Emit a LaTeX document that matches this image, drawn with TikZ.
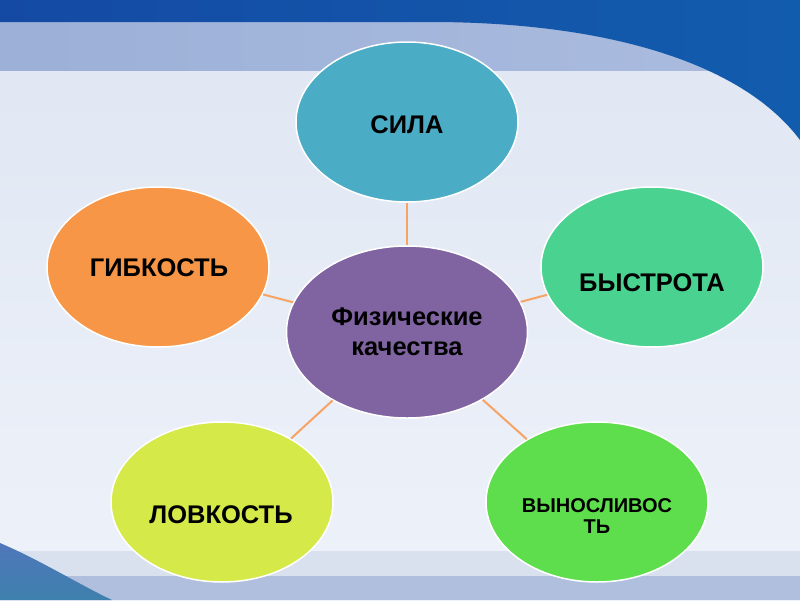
\documentclass[tikz,border=0pt]{standalone}
\usepackage{fontspec}
\setmainfont{Liberation Sans}
\usetikzlibrary{shapes.geometric}

\definecolor{fonVerh}{RGB}{20,74,164}
\definecolor{fonPolosa}{RGB}{156,176,216}
\definecolor{fonSvet}{RGB}{223,230,242}
\definecolor{fonNiz}{RGB}{238,242,250}
\definecolor{fonLenta}{RGB}{217,225,239}
\definecolor{fonLenta2}{RGB}{175,191,221}
\definecolor{volnaC}{RGB}{62,128,172}
\definecolor{silaC}{RGB}{75,172,198}
\definecolor{bystrC}{RGB}{74,210,145}
\definecolor{vynosC}{RGB}{94,222,76}
\definecolor{lovkC}{RGB}{213,234,72}
\definecolor{gibkC}{RGB}{247,150,70}
\definecolor{fizC}{RGB}{128,100,162}
\definecolor{svyazC}{RGB}{246,163,100}

\begin{document}
\begin{tikzpicture}[x=1pt, y=-1pt,
    krug/.style={ellipse, draw=white, line width=1.5pt, inner sep=0pt,
                 minimum width=222pt, minimum height=160pt},
    nadp/.style={font=\bfseries\fontsize{25.5}{30}\selectfont, align=center, text=black},
    svyaz/.style={draw=svyazC, line width=2pt}]
    \useasboundingbox (0,0) rectangle (800,600);

    % фон слайда
    \shade[top color=fonSvet, bottom color=fonNiz] (0,0) rectangle (800,600);
    \shade[left color=fonPolosa, right color=fonPolosa!85!white] (0,22) rectangle (800,70);
    \fill[fonLenta] (0,551) rectangle (800,576);
    \fill[fonLenta2] (0,576) rectangle (800,600);

    % синяя волна сверху справа
    \shade[left color=fonVerh, right color=fonVerh!90!cyan]
        (0,0) -- (800,0) -- (800,140) .. controls (740,60) and (600,22) .. (430,22)
        -- (0,22) -- cycle;

    % волна внизу слева
    \shade[top color=fonVerh!75!white, bottom color=volnaC]
        (0,543) .. controls (40,560) and (80,585) .. (112,600) -- (0,600) -- cycle;

    % эллипсы
    \node[krug, fill=fizC, minimum width=241pt, minimum height=172pt] (fiz) at (407,332) {};
    \node[krug, fill=silaC] (sila) at (407,122) {};
    \node[krug, fill=gibkC] (gibk) at (158,267) {};
    \node[krug, fill=bystrC] (bystr) at (652,267) {};
    \node[krug, fill=lovkC] (lovk) at (222,502) {};
    \node[krug, fill=vynosC] (vynos) at (597,502) {};

    % связи
    \draw[svyaz] (fiz) -- (sila);
    \draw[svyaz] (fiz) -- (gibk);
    \draw[svyaz] (fiz) -- (bystr);
    \draw[svyaz] (fiz) -- (lovk);
    \draw[svyaz] (fiz) -- (vynos);

    % подписи
    \node[nadp] (fizT) at (407,332) {Физические\\качества};
    \node[nadp] (silaT) at (407,125) {СИЛА};
    \node[nadp] (gibkT) at (159,268) {ГИБКОСТЬ};
    \node[nadp] (bystrT) at (652,283) {БЫСТРОТА};
    \node[nadp] (lovkT) at (221,515) {ЛОВКОСТЬ};
    \node[nadp, font=\bfseries\fontsize{20}{21}\selectfont] (vynosT) at (597,516) {ВЫНОСЛИВОС\\ТЬ};
\end{tikzpicture}
\end{document}
